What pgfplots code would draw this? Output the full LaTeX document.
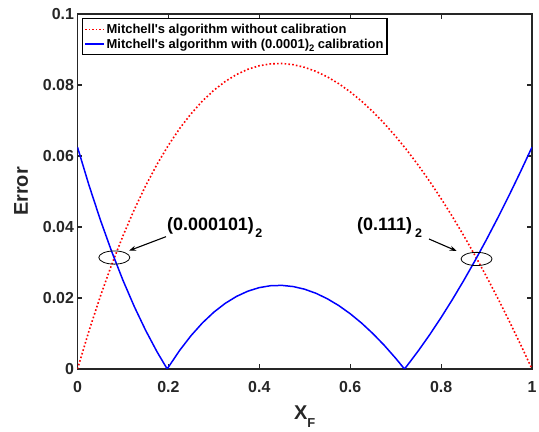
\documentclass[border=0pt]{standalone}
\usepackage{fontspec}
\setmainfont{Liberation Sans}
\usepackage{pgfplots}
\pgfplotsset{compat=1.18}
\usetikzlibrary{arrows.meta}

\definecolor{mtext}{HTML}{262626}

\pgfplotstableread{
x      e
0      0
0.025  0.010624
0.05   0.020389
0.075  0.029336
0.1    0.037504
0.125  0.044925
0.15   0.051634
0.175  0.057660
0.2    0.063034
0.225  0.067782
0.25   0.071928
0.275  0.075497
0.3    0.078512
0.325  0.080992
0.35   0.082959
0.375  0.084432
0.4    0.085427
0.425  0.085962
0.45   0.086053
0.475  0.085715
0.5    0.084963
0.525  0.083809
0.55   0.082268
0.575  0.080352
0.6    0.078072
0.625  0.075440
0.65   0.072466
0.675  0.069161
0.7    0.065535
0.725  0.061596
0.75   0.057355
0.775  0.052819
0.8    0.047997
0.825  0.042896
0.85   0.037525
0.875  0.031891
0.9    0.026000
0.925  0.019858
0.95   0.013474
0.975  0.006853
1      0
}\nocal

\pgfplotstableread{
x      e
0      0.0625
0.025  0.051876
0.05   0.042111
0.075  0.033164
0.1    0.024996
0.125  0.017575
0.15   0.010866
0.175  0.004840
0.1974 0
0.2    0.000534
0.225  0.005282
0.25   0.009428
0.275  0.012997
0.3    0.016012
0.325  0.018492
0.35   0.020459
0.375  0.021932
0.4    0.022927
0.425  0.023462
0.45   0.023553
0.475  0.023215
0.5    0.022463
0.525  0.021309
0.55   0.019768
0.575  0.017852
0.6    0.015572
0.625  0.012940
0.65   0.009966
0.675  0.006661
0.7    0.003035
0.7194 0
0.725  0.000904
0.75   0.005145
0.775  0.009681
0.8    0.014503
0.825  0.019604
0.85   0.024975
0.875  0.030609
0.9    0.036500
0.925  0.042642
0.95   0.049026
0.975  0.055647
1      0.0625
}\withcal

\begin{document}
\begin{tikzpicture}
\begin{axis}[
    scale only axis,
    width=454.5bp, height=355bp,
    xmin=0, xmax=1, ymin=0, ymax=0.1,
    xtick={0,0.2,0.4,0.6,0.8,1},
    ytick={0,0.02,0.04,0.06,0.08,0.1},
    tick align=inside,
    major tick length=5bp,
    axis line style={mtext, line width=1.5bp},
    every tick/.style={mtext, line width=1.2bp},
    /pgf/number format/.cd, fixed, precision=2, assume math mode=true,
    /pgfplots/.cd,
    ticklabel style={font=\bfseries\fontsize{16}{16}\selectfont, text=mtext},
    xticklabel style={yshift=-9bp},
    xlabel={X\raisebox{-8bp}{\fontsize{13}{13}\selectfont F}},
    ylabel={Error},
    label style={font=\bfseries\fontsize{20}{20}\selectfont, text=mtext},
    xlabel style={yshift=-6bp},
    ylabel style={yshift=8bp},
    legend cell align=left,
    legend style={at={(rel axis cs:0.01,0.988)}, anchor=north west,
        draw=black, line width=1.2bp, inner xsep=2bp, inner ysep=5bp,
        row sep=3bp,
        font=\bfseries\fontsize{13}{13}\selectfont,
        nodes={inner xsep=1.5bp, inner ysep=0.3bp}},
    legend image code/.code={\draw[#1] (0bp,0bp) -- (19bp,0bp);},
]
\addlegendimage{red, line width=1.5bp, dash pattern=on 1.5bp off 2bp}
\addlegendentry{Mitchell\textquotesingle s algorithm without calibration}
\addlegendimage{blue, line width=1.5bp, solid}
\addlegendentry{Mitchell\textquotesingle s algorithm with (0.0001)\raisebox{-3bp}{\fontsize{9.5}{9.5}\selectfont 2} calibration}
\addplot[red, line width=1.6bp, dash pattern=on 1.6bp off 2.2bp, forget plot] table[x=x, y=e] {\nocal};
\addplot[blue, line width=1.5bp, forget plot] table[x=x, y=e] {\withcal};

\draw[black, line width=0.8bp] (axis cs:0.081,0.0314) ellipse [x radius=15.5bp, y radius=6.6bp];
\draw[black, line width=0.8bp] (axis cs:0.878,0.0310) ellipse [x radius=15.5bp, y radius=6.6bp];
\draw[black, line width=1.1bp, -{Stealth[length=7bp, width=5bp]}] (axis cs:0.1947,0.03727) -- (axis cs:0.1133,0.03332);
\draw[black, line width=1.1bp, -{Stealth[length=7bp, width=5bp]}] (axis cs:0.7734,0.03662) -- (axis cs:0.8343,0.03324);
\node[anchor=base west, inner sep=0pt, font=\bfseries\fontsize{18}{18}\selectfont, text=black]
    at (axis cs:0.1969,0.03915) {(0.000101)\kern1.5bp\raisebox{-7bp}{\fontsize{12.5}{12.5}\selectfont 2}};
\node[anchor=base west, inner sep=0pt, font=\bfseries\fontsize{18}{18}\selectfont, text=black]
    at (axis cs:0.615,0.03915) {(0.111)\kern3bp\raisebox{-7bp}{\fontsize{12.5}{12.5}\selectfont 2}};
\end{axis}
\pgfresetboundingbox
\path[use as bounding box] (-77.5bp,-63bp) rectangle (461.5bp,369bp);
\end{tikzpicture}
\end{document}
